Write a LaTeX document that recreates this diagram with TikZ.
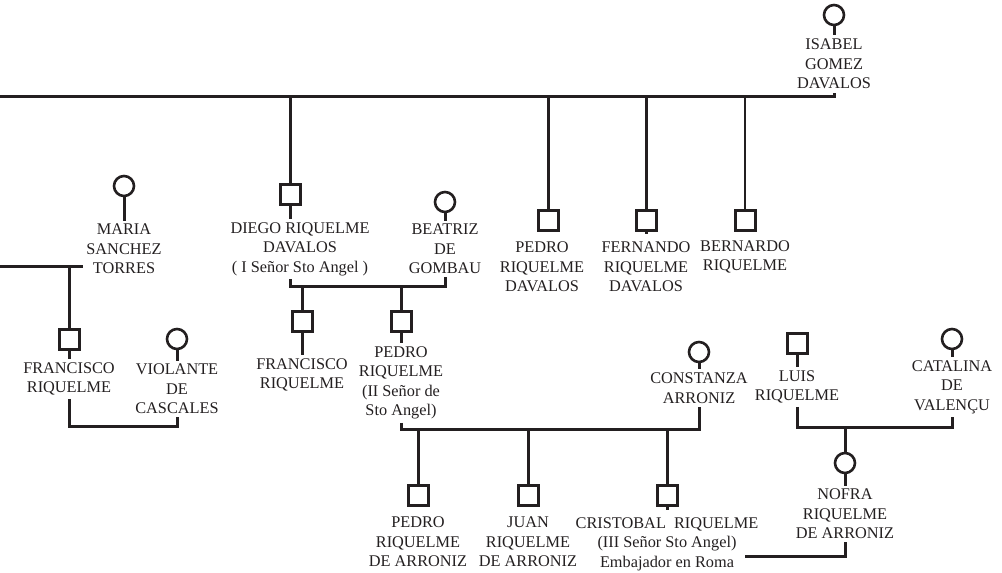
\documentclass[tikz,border=0pt]{standalone}
\usepackage{fontspec}
\setmainfont{Liberation Serif}
\definecolor{ink}{RGB}{35,31,32}
\tikzset{
    font = \fontsize{16.3}{19.5}\selectfont,
    every node/.style = {
        inner sep = 0pt,
        outer sep = 0pt
    },
    male/.style = {
        draw = ink,
        line width = 3pt,
        minimum size = 20pt
    },
    female/.style = {
        circle,
        draw = ink,
        line width = 2.6pt,
        minimum size = 20pt
    },
    nametag/.style = {
        align = center,
        text = ink,
        inner sep = 3.5pt
    },
    kin/.style = {
        draw = ink,
        line width = 3pt
    },
    thinkin/.style = {
        draw = ink,
        line width = 2pt
    }
}

\begin{document}
\begin{tikzpicture}[x=1pt, y=-1pt]
    \useasboundingbox (0,0) rectangle (1002,573);
    % Isabel and her children
    \node[female] (isabel) at (834,15) {};
    \node[nametag] (isabelL) at (834,64) {ISABEL\\GOMEZ\\DAVALOS};
    \draw[kin] (isabel) -- (isabelL.north);
    \coordinate (topbar) at (0,96);
    \draw[kin] (topbar) -- (topbar -| isabel) -- (isabelL.south);
    \node[male] (diego) at (290,194) {};
    \node[nametag] (diegoL) at (300,249) {DIEGO RIQUELME\\DAVALOS\\( I Señor Sto Angel )};
    \node[male] (pedroD) at (548,220) {};
    \node[nametag] (pedroDL) at (542,267) {PEDRO\\RIQUELME\\DAVALOS};
    \node[male] (fernando) at (646,220) {};
    \node[nametag] (fernandoL) at (646,267) {FERNANDO\\RIQUELME\\DAVALOS};
    \node[male] (bernardo) at (745,220) {};
    \node[nametag] (bernardoL) at (745,257) {BERNARDO\\RIQUELME};
    \draw[kin] (topbar -| diego) -- (diego);
    \draw[kin] (diego) -- (diego |- diegoL.north);
    \draw[kin] (topbar -| pedroD) -- (pedroD);
    \draw[kin] (topbar -| fernando) -- (fernando);
    \draw[kin] (fernando.south) -- ++(0,4);
    \draw[thinkin] (topbar -| bernardo) -- (bernardo);
    % Maria
    \node[female] (maria) at (124,186) {};
    \node[nametag] (mariaL) at (124,249) {MARIA\\SANCHEZ\\TORRES};
    \draw[kin] (maria) -- (maria |- mariaL.north);
    \coordinate (mariabar) at (0,266);
    \draw[kin] (mariabar) -- (mariabar -| mariaL.west);
    \node[male] (fran1) at (69,339) {};
    \node[nametag] (fran1L) at (69,379) {FRANCISCO\\RIQUELME};
    \draw[kin] (mariabar -| fran1) -- (fran1);
    \draw[kin] (fran1) -- (fran1 |- fran1L.north);
    \node[female] (violante) at (177,339) {};
    \node[nametag] (violanteL) at (177,389) {VIOLANTE\\DE\\CASCALES};
    \draw[kin] (violante) -- (violante |- violanteL.north);
    \coordinate (fvbar) at (0,426);
    \draw[kin] (fran1L.south -| fran1) -- (fvbar -| fran1) -- (fvbar -| violante) -- (violanteL.south);
    % Diego and Beatriz
    \node[female] (beatriz) at (445,202) {};
    \node[nametag] (beatrizL) at (445,249) {BEATRIZ\\DE\\GOMBAU};
    \draw[kin] (beatriz) -- (beatriz |- beatrizL.north);
    \coordinate (dbbar) at (0,286);
    \draw[kin] (diegoL.south -| diego) -- (dbbar -| diego) -- (dbbar -| beatriz) -- (beatrizL.south);
    \node[male] (fran2) at (302,321) {};
    \node[nametag] (fran2L) at (302,375) {FRANCISCO\\RIQUELME};
    \node[male] (pedro2) at (401,321) {};
    \node[nametag] (pedro2L) at (401,383) {PEDRO\\RIQUELME\\(II Señor de\\Sto Angel)};
    \draw[kin] (dbbar -| fran2) -- (fran2);
    \draw[kin] (fran2) -- (fran2 |- fran2L.north);
    \draw[kin] (dbbar -| pedro2) -- (pedro2);
    \draw[kin] (pedro2) -- (pedro2 |- pedro2L.north);
    % Pedro and Constanza
    \node[female] (constanza) at (699,352) {};
    \node[nametag] (constanzaL) at (699,388) {CONSTANZA\\ARRONIZ};
    \draw[kin] (constanza) -- (constanza |- constanzaL.north);
    \coordinate (pcbar) at (0,429);
    \draw[kin] (pedro2L.south) -- (pcbar -| pedro2) -- (pcbar -| constanza) -- (constanzaL.south);
    \node[male] (pedroA) at (418,495) {};
    \node[nametag] (pedroAL) at (418,542) {PEDRO\\RIQUELME\\DE ARRONIZ};
    \node[male] (juan) at (528,495) {};
    \node[nametag] (juanL) at (528,542) {JUAN\\RIQUELME\\DE ARRONIZ};
    \node[male] (cristobal) at (667,495) {};
    \node[nametag] (cristobalL) at (667,544) {CRISTOBAL\ \ RIQUELME\\(III Señor Sto Angel)\\Embajador en Roma};
    \draw[kin] (pcbar -| pedroA) -- (pedroA);
    \draw[kin] (pcbar -| juan) -- (juan);
    \draw[kin] (pcbar -| cristobal) -- (cristobal);
    \draw[kin] (cristobal.south) -- ++(0,5);
    % Luis and Catalina
    \node[male] (luis) at (797,343) {};
    \node[nametag] (luisL) at (797,387) {LUIS\\RIQUELME};
    \draw[kin] (luis) -- (luis |- luisL.north);
    \node[female] (catalina) at (952,339) {};
    \node[nametag] (catalinaL) at (952,387) {CATALINA\\DE\\VALENÇU};
    \draw[kin] (catalina) -- (catalina |- catalinaL.north);
    \coordinate (lcbar) at (0,427);
    \draw[kin] (luisL.south) -- (lcbar -| luis) -- (lcbar -| catalina) -- (catalinaL.south);
    \node[female] (nofra) at (845,463) {};
    \node[nametag] (nofraL) at (845,514) {NOFRA\\RIQUELME\\DE ARRONIZ};
    \draw[kin] (lcbar -| nofra) -- (nofra);
    \draw[kin] (nofra) -- (nofra |- nofraL.north);
    \coordinate (cnbar) at (745,556);
    \draw[kin] (cnbar) -- (cnbar -| nofra) -- (nofraL.south);
\end{tikzpicture}
\end{document}
